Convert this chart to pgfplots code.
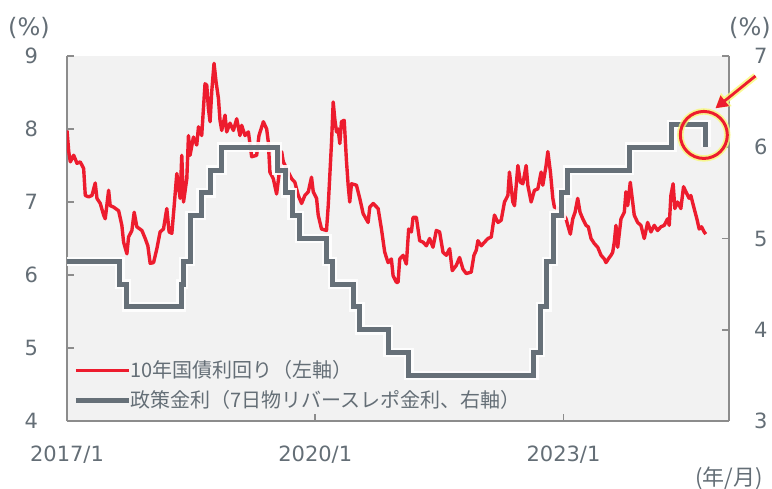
\documentclass[border=0pt]{standalone}
\usepackage{pgfplots}
\pgfplotsset{compat=1.18}
\usepackage{pgfplotstable}
\usetikzlibrary{arrows.meta}
\usepackage{fontspec}
\setmainfont{DejaVu Sans}
\newfontfamily\jp{Noto Sans CJK JP}
\definecolor{txt}{RGB}{100,110,118}
\definecolor{axl}{RGB}{140,140,140}
\definecolor{bg}{RGB}{242,242,242}
\definecolor{yred}{RGB}{237,28,46}
\definecolor{pgray}{RGB}{102,112,120}
\definecolor{glow}{RGB}{248,248,120}

\pgfplotstableread{
x y
2017.000 7.98
2017.021 7.69
2017.040 7.55
2017.081 7.64
2017.121 7.53
2017.160 7.55
2017.201 7.46
2017.221 7.09
2017.262 7.07
2017.302 7.09
2017.341 7.26
2017.362 7.05
2017.402 6.98
2017.443 6.82
2017.462 6.77
2017.503 7.16
2017.522 6.95
2017.563 6.93
2017.624 6.88
2017.663 6.68
2017.684 6.45
2017.724 6.29
2017.744 6.52
2017.784 6.61
2017.812 6.86
2017.844 6.66
2017.905 6.61
2017.945 6.50
2017.977 6.40
2018.005 6.16
2018.046 6.17
2018.086 6.36
2018.125 6.59
2018.166 6.63
2018.206 6.91
2018.234 6.59
2018.267 6.57
2018.299 7.00
2018.327 7.39
2018.367 7.05
2018.387 7.64
2018.408 7.00
2018.448 7.32
2018.468 7.91
2018.487 7.64
2018.528 7.89
2018.568 7.78
2018.589 8.03
2018.628 7.91
2018.668 8.62
2018.689 8.60
2018.709 8.28
2018.729 8.10
2018.749 8.51
2018.777 8.90
2018.801 8.65
2018.830 8.42
2018.849 8.12
2018.870 7.98
2018.910 8.19
2018.930 7.96
2018.970 8.08
2019.011 7.98
2019.051 8.14
2019.090 7.91
2019.111 8.05
2019.151 7.91
2019.192 7.96
2019.232 7.62
2019.292 7.64
2019.320 7.91
2019.373 8.10
2019.413 8.00
2019.433 7.82
2019.452 7.41
2019.493 7.32
2019.533 7.11
2019.565 7.40
2019.594 7.69
2019.614 7.55
2019.714 7.32
2019.754 7.27
2019.795 7.09
2019.835 6.98
2019.875 7.09
2019.916 7.14
2019.955 7.34
2019.976 7.14
2020.016 7.05
2020.036 6.82
2020.076 6.63
2020.136 6.61
2020.157 6.95
2020.197 7.82
2020.217 8.37
2020.236 8.14
2020.257 7.96
2020.277 8.00
2020.297 7.80
2020.317 8.10
2020.350 8.12
2020.378 7.55
2020.398 7.23
2020.417 7.00
2020.438 7.25
2020.498 7.23
2020.538 7.05
2020.579 6.84
2020.639 6.72
2020.659 6.93
2020.700 6.98
2020.760 6.91
2020.800 6.63
2020.840 6.31
2020.881 6.17
2020.920 6.22
2020.941 5.99
2020.981 5.90
2021.001 5.90
2021.021 6.22
2021.062 6.27
2021.101 6.15
2021.129 6.63
2021.162 6.59
2021.182 6.79
2021.222 6.79
2021.262 6.47
2021.303 6.45
2021.343 6.40
2021.382 6.50
2021.423 6.38
2021.463 6.61
2021.503 6.59
2021.544 6.31
2021.584 6.27
2021.624 6.36
2021.656 6.06
2021.704 6.13
2021.744 6.24
2021.785 6.08
2021.825 6.02
2021.885 6.04
2021.918 6.27
2021.946 6.34
2021.966 6.47
2022.006 6.40
2022.046 6.45
2022.087 6.50
2022.127 6.52
2022.166 6.82
2022.208 6.72
2022.247 6.75
2022.287 7.00
2022.328 7.09
2022.347 7.41
2022.388 7.00
2022.408 6.95
2022.449 7.50
2022.480 7.27
2022.509 7.25
2022.549 7.50
2022.569 7.23
2022.609 7.00
2022.649 7.16
2022.690 7.18
2022.730 7.41
2022.750 7.23
2022.790 7.50
2022.811 7.69
2022.842 7.41
2022.871 7.05
2022.890 6.93
2022.960 6.90
2023.031 6.77
2023.052 6.68
2023.083 6.56
2023.112 6.77
2023.140 6.86
2023.172 7.05
2023.200 6.86
2023.233 6.77
2023.273 6.68
2023.300 6.66
2023.333 6.50
2023.373 6.43
2023.414 6.38
2023.454 6.27
2023.493 6.22
2023.514 6.17
2023.554 6.24
2023.574 6.27
2023.594 6.31
2023.614 6.45
2023.634 6.68
2023.655 6.38
2023.695 6.77
2023.735 6.86
2023.755 7.14
2023.776 6.95
2023.807 7.27
2023.836 7.00
2023.855 6.82
2023.896 6.72
2023.936 6.68
2023.976 6.50
2024.017 6.72
2024.057 6.59
2024.097 6.68
2024.137 6.61
2024.177 6.66
2024.217 6.68
2024.258 6.77
2024.278 6.68
2024.298 7.09
2024.325 7.25
2024.346 6.91
2024.378 7.00
2024.418 6.91
2024.451 7.21
2024.479 7.14
2024.519 7.05
2024.539 7.09
2024.579 6.91
2024.612 6.77
2024.640 6.63
2024.668 6.66
2024.700 6.59
2024.720 6.56
}\yielddata

\pgfplotstableread{
x y
2017.00 4.75
2017.64 4.50
2017.72 4.25
2018.38 4.50
2018.41 4.75
2018.49 5.25
2018.62 5.50
2018.74 5.75
2018.87 6.00
2019.54 5.75
2019.64 5.50
2019.72 5.25
2019.81 5.00
2020.14 4.75
2020.21 4.50
2020.46 4.25
2020.54 4.00
2020.88 3.75
2021.13 3.50
2022.64 3.75
2022.72 4.25
2022.80 4.75
2022.88 5.25
2022.97 5.50
2023.05 5.75
2023.80 6.00
2024.31 6.25
2024.72 6.00
}\policydata

\begin{document}
\begin{tikzpicture}
\path[use as bounding box] (-33.5pt,-33.5pt) rectangle ++(386pt,244pt);
\pgfplotsset{
  base/.style={
    scale only axis, width=331pt, height=182.5pt,
    xmin=2017, xmax=2025,
    tick style={axl, line width=0.9pt},
    major tick length=3.5pt,
    tick align=inside,
    ticklabel style={font=\fontsize{10.5}{12}\selectfont, text=txt},
    /pgf/number format/assume math mode=true,
    axis line style={axl, line width=0.9pt, -},
  }
}
\begin{axis}[base,
  axis x line*=bottom, axis y line*=left,
  axis background/.style={fill=bg},
  ymin=4, ymax=9, ytick={4,5,6,7,8,9},
  xtick={2017,2020,2023}, xticklabels={2017/1,2020/1,2023/1},
  yticklabel style={xshift=-11pt},
  xticklabel style={yshift=-9pt},
]
\addplot[yred, line width=1.7pt, line join=round] table[x=x,y=y] {\yielddata};
\end{axis}
\begin{axis}[base,
  axis y line*=right, axis x line=none,
  ymin=3, ymax=7, ytick={3,4,5,6,7},
  yticklabel style={xshift=9pt},
  clip=false,
  legend cell align=left,
  legend image code/.code={\draw[#1] (0pt,0pt) -- (26.5pt,0pt);},
  legend style={at={(0,0)}, anchor=south west, xshift=3pt, yshift=3.1pt,
    draw=none, fill=none, inner sep=0pt, row sep=0.9pt,
    /tikz/every odd column/.style={column sep=-2.5pt},
    font=\jp\fontsize{10}{11}\selectfont, text=txt},
]
\addlegendimage{yred, line width=1.7pt}
\addlegendentry{10年国債利回り（左軸）}
\addplot[const plot, white, line width=4.8pt, opacity=0.9, forget plot] table[x=x,y=y] {\policydata};
\addplot[const plot, pgray, line width=2.5pt, forget plot] table[x=x,y=y] {\policydata};
\addlegendimage{pgray, line width=2.5pt}
\addlegendentry{政策金利（7日物リバースレポ金利、右軸）}
% annotation
\draw[glow, line width=3.2pt, opacity=0.8] (axis cs:2024.696,6.135) circle[radius=11.75pt];
\draw[yred, line width=1.5pt] (axis cs:2024.696,6.135) circle[radius=11.75pt];
\draw[glow, line width=3.4pt, opacity=0.8, -{Triangle[length=7pt,width=8pt]}] (axis cs:2025.320,6.781) -- (axis cs:2024.837,6.427);
\draw[yred, line width=1.4pt, -{Triangle[length=6pt,width=6.5pt]}] (axis cs:2025.320,6.781) -- (axis cs:2024.837,6.427);
\end{axis}
\node[text=txt, font=\fontsize{12}{14}\selectfont] at (-19pt,196.5pt) {(\%)};
\node[text=txt, font=\fontsize{12}{14}\selectfont] at (341.5pt,196.5pt) {(\%)};
\node[text=txt, font=\jp\fontsize{11}{13}\selectfont] at (331pt,-28.5pt) {(年/月)};
\end{tikzpicture}
\end{document}
